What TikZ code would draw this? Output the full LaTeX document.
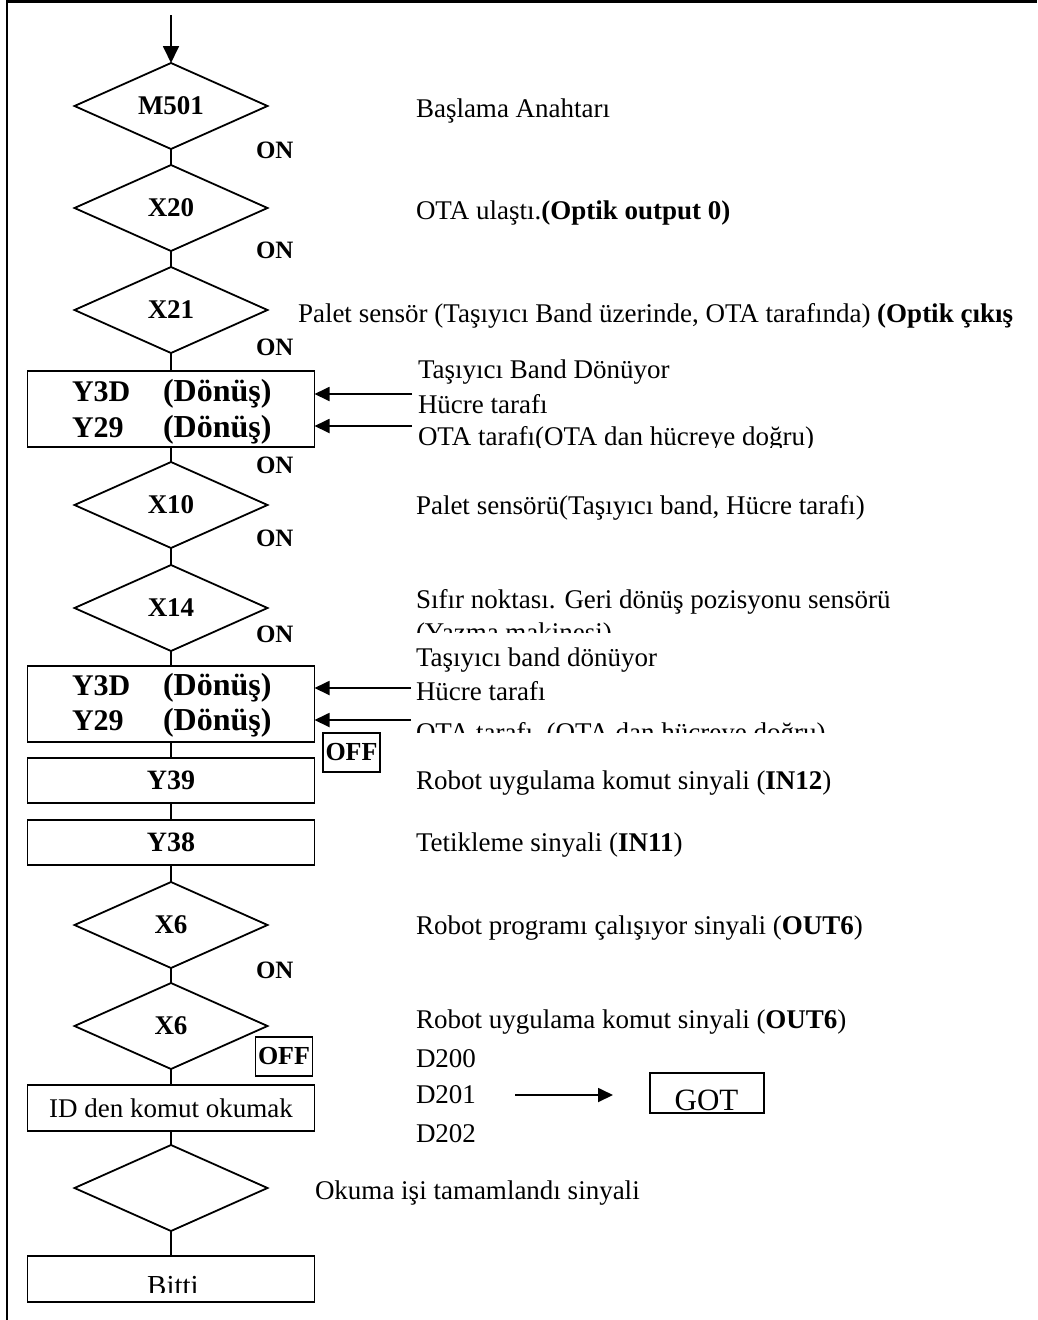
\documentclass[tikz,border=0pt]{standalone}
\usepackage{fontspec}
\setmainfont{Liberation Serif}
\usetikzlibrary{shapes.geometric,arrows.meta}
\begin{document}
\begin{tikzpicture}[x=1pt,y=-1pt,
  every node/.style={inner sep=0pt,outer sep=0pt},
  ln/.style={line width=1.8pt},
  dia/.style={draw,ln,diamond,aspect=2.24,minimum width=193pt,minimum height=86pt,
    font=\bfseries\fontsize{27}{32}\selectfont},
  box/.style={draw,ln,rectangle,minimum width=287pt},
  boxtxt/.style={anchor=base west,font=\bfseries\fontsize{30}{36}\selectfont},
  boxtxtb/.style={anchor=base west,font=\bfseries\fontsize{32}{38}\selectfont},
  lbltxt/.style={font=\bfseries\fontsize{28}{34}\selectfont},
  txt/.style={anchor=base west,font=\fontsize{27}{32}\selectfont},
  ontxt/.style={anchor=base west,font=\bfseries\fontsize{25}{30}\selectfont},
  offbox/.style={draw,line width=1.5pt,minimum width=57pt,minimum height=39pt,
    font=\bfseries\fontsize{26}{31}\selectfont},
  arr/.style={ln,-{Triangle[length=15pt,width=14pt]}}
]
\useasboundingbox (0,0) rectangle (1037,1320);
% frame
\draw[line width=2.2pt] (7,1320) -- (7,1.5) -- (1037,1.5);

% main column
\node[dia] (m501) at (171,106) {M501};
\node[dia] (x20) at (171,208) {X20};
\node[dia] (x21) at (171,310) {X21};
\node[box,minimum height=76pt] (b1) at (171,409) {};
\node[dia] (x10) at (171,505) {X10};
\node[dia] (x14) at (171,608) {X14};
\node[box,minimum height=76pt] (b2) at (171,704) {};
\node[box,minimum height=45pt,lbltxt] (y39) at (171,780.5) {Y39};
\node[box,minimum height=45pt,lbltxt] (y38) at (171,842.5) {Y38};
\node[dia] (x6a) at (171,925) {X6};
\node[dia] (x6b) at (171,1026) {X6};
\node[box,minimum height=46pt,font=\fontsize{27}{32}\selectfont] (idb) at (171,1108) {ID den komut okumak};
\node[dia] (dend) at (171,1188) {};
\node[box,minimum height=46pt] (bitti) at (171,1279) {};

% box texts
\node[boxtxt] (b1a) at (72,401) {Y3D};
\node[boxtxtb] (b1b) at (163,401) {(Dönüş)};
\node[boxtxt] (b1c) at (72,437) {Y29};
\node[boxtxtb] (b1d) at (163,437) {(Dönüş)};
\node[boxtxt] (b2a) at (72,695) {Y3D};
\node[boxtxtb] (b2b) at (163,695) {(Dönüş)};
\node[boxtxt] (b2c) at (72,730) {Y29};
\node[boxtxtb] (b2d) at (163,730) {(Dönüş)};
\begin{scope}
  \clip (30,1258) rectangle (312,1292);
  \node[anchor=base,font=\fontsize{29}{34}\selectfont] (bt) at (173,1295) {Bitti};
\end{scope}

% connectors
\coordinate (start) at (171,15);
\draw[ln,-{Triangle[length=17pt,width=16pt]}] (start) -- (m501.north);
\draw[ln] (m501.south) -- (x20.north);
\draw[ln] (x20.south) -- (x21.north);
\draw[ln] (x21.south) -- (b1.north);
\draw[ln] (b1.south) -- (x10.north);
\draw[ln] (x10.south) -- (x14.north);
\draw[ln] (x14.south) -- (b2.north);
\draw[ln] (b2.south) -- (y39.north);
\draw[ln] (y39.south) -- (y38.north);
\draw[ln] (y38.south) -- (x6a.north);
\draw[ln] (x6a.south) -- (x6b.north);
\draw[ln] (x6b.south) -- (idb.north);
\draw[ln] (idb.south) -- (dend.north);
\draw[ln] (dend.south) -- (bitti.north);

% ON / OFF labels
\node[ontxt] (on1) at (256,158) {ON};
\node[ontxt] (on2) at (256,258) {ON};
\node[ontxt] (on3) at (256,355) {ON};
\node[ontxt] (on4) at (256,473) {ON};
\node[ontxt] (on5) at (256,546) {ON};
\node[ontxt] (on6) at (256,642) {ON};
\node[ontxt] (on7) at (256,978) {ON};
\node[offbox] (off1) at (351.5,752.5) {OFF};
\node[offbox] (off2) at (284,1056.5) {OFF};

% side arrows
\coordinate (a1) at (412,394);
\coordinate (a2) at (412,426);
\coordinate (a3) at (411,688);
\coordinate (a4) at (411,720);
\draw[arr] (a1) -- (a1 -| b1.east);
\draw[arr] (a2) -- (a2 -| b1.east);
\draw[arr] (a3) -- (a3 -| b2.east);
\draw[arr] (a4) -- (a4 -| b2.east);

% right-hand texts
\node[txt] (t1) at (416,117) {Başlama Anahtarı};
\node[txt] (t2) at (416,219) {OTA ulaştı.\textbf{(Optik output 0)}};
\node[txt] (t3) at (298,322) {Palet sensör (Taşıyıcı Band üzerinde, OTA tarafında) \textbf{(Optik çıkış}};
\node[txt] (t4) at (418,378) {Taşıyıcı Band Dönüyor};
\node[txt] (t5) at (418,413) {Hücre tarafı};
\begin{scope}
  \clip (400,420) rectangle (1037,447);
  \node[txt] (t6) at (418,445) {OTA tarafı(OTA dan hücreye doğru)};
\end{scope}
\node[txt] (t7) at (416,514) {Palet sensörü(Taşıyıcı band, Hücre tarafı)};
\node[txt] (t8) at (416,608) {Sıfır noktası. Geri dönüş pozisyonu sensörü};
\begin{scope}
  \clip (400,615) rectangle (1037,632);
  \node[txt] (t9) at (416,641) {(Yazma makinesi)};
\end{scope}
\node[txt] (t10) at (416,666) {Taşıyıcı band dönüyor};
\node[txt] (t11) at (416,700) {Hücre tarafı};
\begin{scope}
  \clip (400,710) rectangle (1037,732);
  \node[txt] (t12) at (416,741) {OTA tarafı~ (OTA dan hücreye doğru)};
\end{scope}
\node[txt] (t13) at (416,789) {Robot uygulama komut sinyali (\textbf{IN12})};
\node[txt] (t14) at (416,851) {Tetikleme sinyali (\textbf{IN11})};
\node[txt] (t15) at (416,934) {Robot programı çalışıyor sinyali (\textbf{OUT6})};
\node[txt] (t16) at (416,1028) {Robot uygulama komut sinyali (\textbf{OUT6})};
\node[txt] (d200) at (416,1067) {D200};
\node[txt] (d201) at (416,1103) {D201};
\node[txt] (d202) at (416,1142) {D202};
\node[txt] (t17) at (315,1199) {Okuma işi tamamlandı sinyali};

% GOT
\node[draw,ln,minimum width=114pt,minimum height=40pt] (got) at (707,1093) {};
\node[anchor=base,font=\fontsize{31}{36}\selectfont] (gott) at (706.5,1110) {GOT};
\coordinate (g1) at (515,1095);
\coordinate (g2) at (613,1095);
\draw[ln,-{Triangle[length=15pt,width=14pt]}] (g1) -- (g2);
\end{tikzpicture}
\end{document}
